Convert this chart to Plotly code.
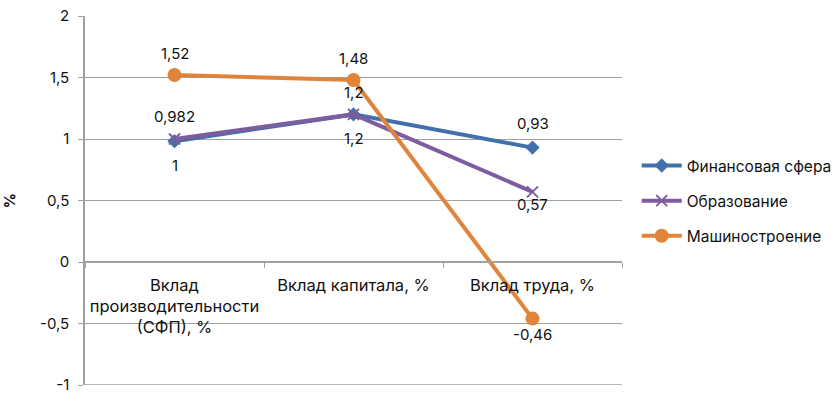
import plotly.graph_objects as go

categories = ["Вклад<br>производительности<br>(СФП), %", "Вклад капитала, %", "Вклад труда, %"]
fin = [0.982, 1.2, 0.93]
edu = [1, 1.2, 0.57]
mash = [1.52, 1.48, -0.46]
fin_labels = ["0,982", "1,2", "0,93"]
edu_labels = ["1", "1,2", "0,57"]
mash_labels = ["1,52", "1,48", "-0,46"]
fin_shift = [25, 22, 24]
edu_shift = [-26, -24, -13]
mash_shift = [22, 21, -16]
y_ticks = [-1, -0.5, 0, 0.5, 1, 1.5, 2]
y_ticktext = ["-1", "-0,5", "0", "0,5", "1", "1,5", "2"]

FONT = "Inter, Roboto, sans-serif"
GRID = "#A0A0A0"
fig = go.Figure()
series = [
    ("Финансовая сфера", fin, fin_labels, fin_shift, "#4170AA",
     dict(symbol="diamond", size=11, color="#4170AA")),
    ("Образование", edu, edu_labels, edu_shift, "#7D5CA0",
     dict(symbol="x-thin", size=11, color="#7D5CA0", line=dict(width=2, color="#7D5CA0"))),
    ("Машиностроение", mash, mash_labels, mash_shift, "#E0843B",
     dict(symbol="circle", size=14, color="#E0843B")),
]
for name, vals, labels, shifts, col, mk in series:
    fig.add_trace(go.Scatter(x=categories, y=vals, name=name, legendgroup=name,
                             mode="lines+markers", line=dict(color=col, width=4), marker=mk))
    for c, v, t, s in zip(categories, vals, labels, shifts):
        fig.add_annotation(x=c, y=v, text=t, showarrow=False, yshift=s,
                           font=dict(size=15, color="#111"))

# bottom gridline at the lowest tick
fig.add_shape(type="line", xref="paper", yref="y", x0=0, x1=1, y0=y_ticks[0], y1=y_ticks[0],
              line=dict(color=GRID, width=1.5), layer="below")

fig.update_layout(
    width=840, height=394,
    margin=dict(l=85, r=218, t=16, b=9),
    plot_bgcolor="white", paper_bgcolor="white",
    font=dict(family=FONT, size=15, color="#111"),
    legend=dict(xref="container", yref="container", x=0.758, y=0.49,
                yanchor="middle", xanchor="left",
                font=dict(size=15.5), itemwidth=40, tracegroupgap=12),
    xaxis=dict(type="category", anchor="free", position=1/3, showline=True,
               linecolor=GRID, linewidth=1.5, ticks="outside", tickson="boundaries",
               ticklen=5, tickcolor=GRID, showgrid=False, automargin=False,
               tickfont=dict(size=16.5), tickangle=0, range=[-0.5, 2.5], ticklabelstandoff=8),
    yaxis=dict(range=[-1, 2], tickvals=y_ticks, ticktext=y_ticktext, showgrid=True,
               gridcolor=GRID, gridwidth=1, zeroline=False, showline=True,
               linecolor=GRID, linewidth=1.5, ticks="outside", ticklen=5,
               tickcolor=GRID, automargin=False, tickfont=dict(size=15),
               ticklabeloverflow="allow", ticklabelstandoff=6,
               title=dict(text="<b>%</b>", standoff=22, font=dict(size=15))),
)
fig.write_html("out.html")
